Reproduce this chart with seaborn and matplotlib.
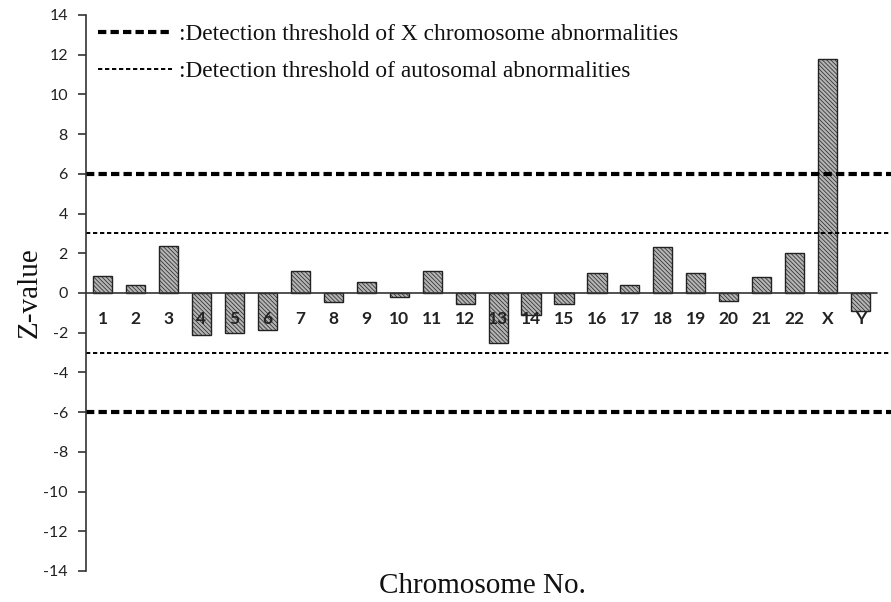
import matplotlib
matplotlib.use("Agg")
import matplotlib.pyplot as plt
import seaborn as sns
import pandas as pd

# chromosome z-values
chromosomes = [str(i) for i in range(1, 23)] + ["X", "Y"]
z_values = [0.88, 0.39, 2.39, -2.10, -2.02, -1.88, 1.09, -0.47, 0.54, -0.20,
            1.09, -0.55, -2.50, -1.09, -0.55, 1.01, 0.39, 2.32, 1.01, -0.40,
            0.79, 2.02, 11.78, -0.92]
x_threshold = 6
auto_threshold = 3
y_ticks = list(range(-14, 15, 2))

df = pd.DataFrame({"chrom": chromosomes, "z": z_values})

sns.set_style("white")
plt.rcParams["hatch.color"] = "#4a4a4a"
plt.rcParams["hatch.linewidth"] = 0.5

fig = plt.figure(figsize=(8.91, 6.02), dpi=100)
ax = fig.add_axes([86 / 891, 31 / 602, 1 - 86 / 891, 556 / 602])

sns.barplot(data=df, x="chrom", y="z", order=chromosomes, color="#b4b4b4",
            width=0.58, edgecolor="#222222", linewidth=1.0, ax=ax)
for p in ax.patches:
    p.set_hatch("\\" * 8)

# threshold lines
ax.axhline(x_threshold, color="black", lw=3.0, dashes=(2.0, 1.0),
           label=":Detection threshold of X chromosome abnormalities")
ax.axhline(-x_threshold, color="black", lw=3.0, dashes=(2.0, 1.0))
ax.axhline(auto_threshold, color="black", lw=1.4, dashes=(2.2, 1.4),
           label=":Detection threshold of autosomal abnormalities")
ax.axhline(-auto_threshold, color="black", lw=1.4, dashes=(2.2, 1.4))

# zero baseline only across the categories
ax.plot([-0.5, len(chromosomes) - 0.5], [0, 0], color="#333333", lw=1.2)

ax.set_xlim(-0.5, 23.92)
ax.set_ylim(-14, 14)
ax.set_yticks(y_ticks)
ax.set_yticklabels([str(t) for t in y_ticks], fontsize=11.5, family="Lato",
                   color="#222222")
ax.tick_params(axis="y", direction="out", length=6, width=1.2, color="#333333",
               left=True, pad=7)
ax.tick_params(axis="x", bottom=False, labelbottom=False)

for i, c in enumerate(chromosomes):
    ax.text(i, -1.3, c, ha="center", va="center", fontsize=12.5,
            family="Lato", fontweight="bold", color="#222222")

sns.despine(ax=ax, top=True, right=True, bottom=True)
ax.spines["left"].set_color("#333333")
ax.spines["left"].set_linewidth(1.2)

ax.set_xlabel("")
ax.set_ylabel("Z-value", family="Liberation Serif", fontsize=21, color="#111111")
ax.yaxis.set_label_coords(-43 / 805, 0.5)
fig.text(482 / 891, 1 - 586 / 602, "Chromosome No.", family="Liberation Serif",
         fontsize=21, ha="center", va="center", color="#111111")

leg = ax.legend(loc="upper left", bbox_to_anchor=(0.0, 1.005), frameon=False,
                prop={"family": "Liberation Serif", "size": 16.8},
                handlelength=3.2, handletextpad=0.3, labelspacing=0.65,
                borderaxespad=0.1)
for t in leg.get_texts():
    t.set_color("#111111")

fig.savefig("out.png", dpi=100)
